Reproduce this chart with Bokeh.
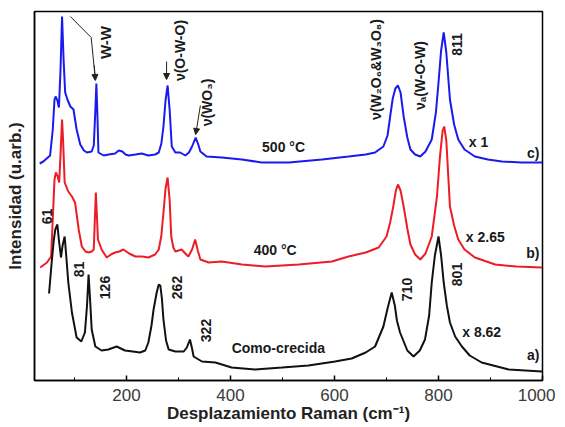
import math
from bokeh.plotting import figure
from bokeh.models import Range1d, Label, Arrow, NormalHead, SingleIntervalTicker, FixedTicker
from bokeh.embed import file_html
from bokeh.resources import INLINE

# ---- data (Raman shift cm^-1, intensity a.u., offset stacked) ----
c_x = [33, 40, 53, 58, 61.5, 64, 67, 70, 73, 76, 79, 82, 87, 92, 98, 104, 111, 118, 124, 133, 137, 140, 142, 144, 146,
       156, 166, 178, 185, 192, 198, 204, 217, 229, 242, 255, 262, 267, 271, 275, 279, 283, 287, 294, 303, 313, 320,
       326, 333, 338, 342, 354, 383, 422, 460, 512, 576, 627, 660, 678, 694, 702, 707, 712, 717, 722, 727, 733, 740,
       746, 755, 765, 775, 787, 795, 800, 805, 810, 815, 822, 830, 838, 850, 870, 895, 922, 960, 999]
c_y = [217, 219, 225, 250, 281, 284, 280, 273, 310, 364, 320, 288, 280, 274, 271, 251, 236, 230, 228, 229, 235, 270, 297,
       265, 228, 225, 226, 227, 230, 229, 226, 225, 226, 227, 225, 226, 228, 237, 254, 280, 295, 270, 234, 228, 228,
       225, 228, 234, 243, 236, 229, 224, 223, 221, 218, 218, 221, 224, 226, 228, 234, 245, 264, 282, 292, 295, 288,
       264, 243, 231, 226, 224, 229, 241, 268, 298, 330, 348, 328, 281, 256, 241, 231, 224, 221, 219, 218, 218]

b_x = [34, 47, 55, 58, 61.5, 64, 67, 70.5, 73, 76, 78, 81, 88, 95, 101, 108, 114, 121, 127, 133, 137, 139, 141, 143, 145,
       152, 162, 170, 178, 186, 194, 205, 217, 230, 242, 255, 262, 267, 271, 275, 279, 283, 286, 290, 294, 306, 313,
       319, 326, 332, 337, 342, 358, 383, 422, 467, 531, 595, 627, 660, 685, 700, 707, 713, 718, 722, 727, 733, 740,
       746, 755, 765, 775, 787, 797, 803, 808, 811, 815, 822, 830, 838, 850, 870, 909, 950, 999]
b_y = [113, 118, 124, 160, 201, 208, 205, 198, 225, 261, 240, 198, 189, 184, 178, 151, 134, 129, 128, 129, 131, 160, 188,
       165, 141, 131, 123, 126, 128, 129, 131, 127, 124, 124, 123, 126, 131, 145, 168, 192, 203, 180, 144, 133, 129,
       131, 127, 124, 131, 141, 130, 121, 118, 119, 116, 114, 116, 119, 124, 128, 133, 144, 158, 174, 190, 196, 190,
       174, 152, 136, 126, 121, 127, 144, 184, 225, 250, 254, 240, 174, 155, 141, 131, 123, 116, 114, 113]

a_x = [51, 56, 60, 63, 67, 70, 74, 77, 81, 84, 88, 95, 104, 113, 120, 124, 127, 130, 133, 140, 152, 165, 181, 197, 212,
       226, 236, 242, 248, 252, 258, 262, 265, 268, 271, 276, 281, 294, 310, 316, 322, 326, 329, 345, 371, 402, 447,
       499, 550, 601, 633, 660, 678, 694, 702, 710, 716, 720, 726, 740, 752, 764, 774, 782, 787, 793, 800, 805, 810,
       816, 822, 832, 845, 860, 883, 935, 999]
a_y = [87, 118, 140, 151, 156, 140, 123, 135, 144, 125, 98, 68, 43, 39, 48, 75, 106, 80, 51, 34, 30, 31, 34, 30, 29,
       28, 30, 38, 55, 71, 88, 96, 95, 82, 61, 40, 31, 29, 29, 33, 41, 32, 24, 19, 18, 13, 11,
       13, 15, 19, 22, 28, 34, 54, 72, 88, 75, 60, 48, 30, 24, 30, 41, 65, 98, 125, 144, 125, 98,
       75, 58, 44, 34, 25, 18, 11, 9]

x_ticks_interval = 200

# ---- figure ----
p = figure(frame_width=508, frame_height=369, x_range=Range1d(23, 1000), y_range=Range1d(0, 369),
           output_backend="svg", toolbar_location=None, min_border_left=34, min_border_right=13,
           min_border_top=11, min_border_bottom=10)
p.background_fill_color = "white"
p.border_fill_color = "white"
p.xgrid.visible = False
p.ygrid.visible = False
p.outline_line_color = "black"
p.outline_line_width = 1.5

# y axis: only the title
p.yaxis.ticker = FixedTicker(ticks=[])
p.yaxis.major_tick_line_color = None
p.yaxis.minor_tick_line_color = None
p.yaxis.major_tick_out = 0
p.yaxis.major_tick_in = 0
p.yaxis.minor_tick_out = 0
p.yaxis.major_label_standoff = 0
p.yaxis.axis_line_color = "black"
p.yaxis.axis_line_width = 1.5
p.yaxis.axis_label = "Intensidad (u.arb.)"
p.yaxis.axis_label_text_font = "Liberation Sans"
p.yaxis.axis_label_text_font_style = "bold"
p.yaxis.axis_label_text_font_size = "17px"
p.yaxis.axis_label_text_color = "#222222"
p.yaxis.axis_label_standoff = 10

p.xaxis.ticker = SingleIntervalTicker(interval=x_ticks_interval, num_minor_ticks=2)
p.xaxis.major_tick_in = 5
p.xaxis.major_tick_out = 0
p.xaxis.minor_tick_in = 3
p.xaxis.minor_tick_out = 0
p.xaxis.axis_line_width = 1.5
p.xaxis.major_tick_line_width = 1.5
p.xaxis.major_label_text_font = "Liberation Sans"
p.xaxis.major_label_text_font_size = "17px"
p.xaxis.major_label_text_color = "#3a3a3a"
p.xaxis.major_label_standoff = 8
p.xaxis.axis_label = "Desplazamiento Raman (cm⁻¹)"
p.xaxis.axis_label_text_font = "Liberation Sans"
p.xaxis.axis_label_text_font_style = "bold"
p.xaxis.axis_label_text_font_size = "17px"
p.xaxis.axis_label_text_color = "#222222"
p.xaxis.axis_label_standoff = 0

p.line(c_x, c_y, line_color="#1a1aee", line_width=2)
p.line(b_x, b_y, line_color="#ee1c24", line_width=2)
p.line(a_x, a_y, line_color="#111111", line_width=2)

FONT = "Liberation Sans"
R = math.pi / 2

def lab(x, y, t, angle=0.0, size="14px", align="center"):
    p.add_layout(Label(x=x, y=y, text=t, angle=angle, text_font=FONT, text_font_size=size,
                       text_font_style="bold", text_align=align, text_baseline="middle",
                       text_color="#1a1a1a"))

# peak labels
lab(47, 164, "61", R)
lab(108, 111, "81", R)
lab(159, 93, "126", R)
lab(297, 93, "262", R)
lab(352, 50, "322", R)
lab(739, 91, "710", R)
lab(835, 106, "801", R)
lab(835, 336, "811", R)
lab(159, 338, "W-W", R, size="15px")
lab(302, 330, "ν(O-W-O)", R)
lab(354, 278, "ν(WO₃)", R)
lab(679, 311, "ν(W₂O₆&W₃O₈)", R)
lab(764, 305, "νₐ(W-O-W)", R)

# series labels
lab(502, 234, "500 °C")
lab(486, 131, "400 °C")
lab(492, 33, "Como-crecida")
lab(877, 239, "x 1")
lab(890, 144, "x 2.65")
lab(883, 49, "x 8.62")
lab(994, 228, "c)", align="right")
lab(994, 128, "b)", align="right")
lab(994, 26, "a)", align="right")

# arrows
p.line([92, 132, 140], [364, 343, 301], line_color="#222222", line_width=1)
p.add_layout(Arrow(end=NormalHead(size=6, fill_color="#222222", line_color="#222222"),
                   x_start=138, y_start=315, x_end=140, y_end=300, line_color="#222222", line_width=1))
p.add_layout(Arrow(end=NormalHead(size=6, fill_color="#222222", line_color="#222222"),
                   x_start=277, y_start=319, x_end=277, y_end=301, line_color="#222222", line_width=1))
p.add_layout(Arrow(end=NormalHead(size=6, fill_color="#222222", line_color="#222222"),
                   x_start=342, y_start=275, x_end=333, y_end=246, line_color="#222222", line_width=1))

open("out.html", "w").write(file_html(p, INLINE))
